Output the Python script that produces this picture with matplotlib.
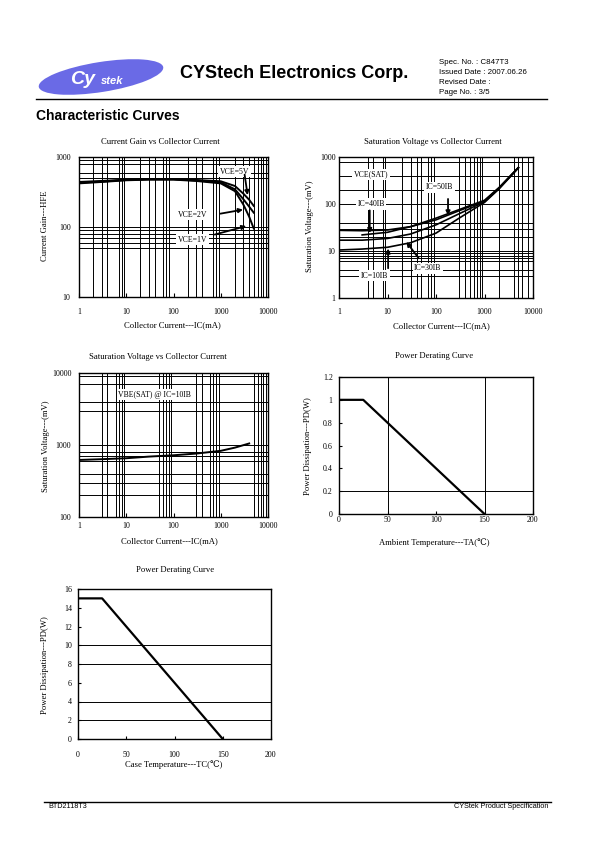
import matplotlib
matplotlib.use('Agg')
import matplotlib.pyplot as plt
from matplotlib.patches import Ellipse
from matplotlib.ticker import FixedLocator, NullFormatter, FormatStrFormatter

W, H = 595, 842
SERIF = ['Liberation Serif', 'DejaVu Serif', 'DejaVu Sans']
SANS = ['Liberation Sans', 'DejaVu Sans']

# ---- values ----
# Current gain vs collector current
hfe_ic = [1, 3, 10, 30, 100, 300, 1000, 2000, 3000, 4000, 5000]
hfe_5v = [440, 455, 475, 485, 485, 470, 450, 385, 300, 245, 200]
hfe_2v = [430, 445, 470, 480, 480, 462, 435, 345, 250, 195, 160]
hfe_1v = [420, 440, 465, 475, 475, 455, 420, 325, 210, 140, 95]

# VCE(SAT) vs collector current
vce_ic = [1, 3, 10, 30, 100, 300, 1000, 2000, 5000]
vce_50ib_ic = [3, 10, 30, 100, 300, 1000, 2000, 5000]
vce_50ib = [22, 25, 33, 50, 76, 120, 225, 600]
vce_40ib = [27.5, 27, 28, 33, 46, 72, 116, 220, 595]
vce_30ib = [17, 17, 18.5, 23, 36, 62, 112, 215, 590]
vce_10ib = [10.5, 11, 12, 15, 24, 50, 108, 210, 585]

# VBE(SAT) @ IC=10IB
vbe_ic = [1, 3, 10, 30, 100, 300, 1000, 2000, 4000]
vbe = [620, 635, 655, 690, 720, 760, 830, 920, 1050]

# power derating
ta = [0, 25, 150]
pd_ta = [1.0, 1.0, 0.0]
tc = [0, 25, 150]
pd_tc = [15, 15, 0]

log_x_ticks = [1, 10, 100, 1000, 10000]

fig = plt.figure(figsize=(W / 100, H / 100), dpi=100)


def axes_px(x0, y0, x1, y1):
    return fig.add_axes([x0 / W, 1 - y1 / H, (x1 - x0) / W, (y1 - y0) / H])


def style_spines(ax):
    for s in ax.spines.values():
        s.set_linewidth(1.0)
        s.set_color('black')


def log_panel(ax, ylim, yticks, xgrid, ygrid, xpad, ypad):
    ax.set_xscale('log')
    ax.set_yscale('log')
    ax.set_xlim(1, 10000)
    ax.set_ylim(*ylim)
    ax.set_xticks(log_x_ticks)
    ax.set_xticklabels([str(v) for v in log_x_ticks])
    ax.set_yticks(yticks)
    ax.set_yticklabels([str(v) for v in yticks])
    ax.xaxis.set_minor_locator(FixedLocator(xgrid))
    ax.yaxis.set_minor_locator(FixedLocator(ygrid))
    ax.xaxis.set_minor_formatter(NullFormatter())
    ax.yaxis.set_minor_formatter(NullFormatter())
    ax.grid(which='minor', color='black', lw=0.7)
    ax.grid(which='major', axis='y', color='black', lw=0.7)
    ax.tick_params(which='minor', length=0)
    ax.tick_params(axis='x', which='major', direction='in', length=3, width=0.8, pad=xpad)
    ax.tick_params(axis='y', which='major', length=0, pad=ypad)
    for lab in ax.get_xticklabels() + ax.get_yticklabels():
        lab.set_family(SERIF)
        lab.set_fontsize(5.7)
    style_spines(ax)


def box_label(ax, x, y, s):
    ax.text(x, y, s, family=SERIF, fontsize=5.6, ha='center', va='center',
            bbox=dict(facecolor='white', edgecolor='none', pad=1.2), zorder=5)


def arrow(ax, xy, xytext):
    ax.annotate('', xy=xy, xytext=xytext,
                arrowprops=dict(arrowstyle='-|>', color='black', lw=1.3,
                                mutation_scale=6, shrinkA=0, shrinkB=0), zorder=6)


def fig_text(x, y, s, **kw):
    fig.text(x / W, 1 - y / H, s, **kw)


# ---- chart 1: current gain ----
ax1 = axes_px(79, 157, 268, 297)
log_panel(ax1, (10, 1000), [10, 100, 1000],
          [2, 3, 4, 7, 8, 9, 20, 30, 40, 60, 70, 80, 200, 300, 400, 700, 800, 900,
           2000, 3000, 4000, 5000, 6000, 7000, 8000, 9000],
          [50, 60, 70, 80, 90, 500, 600, 800, 900], xpad=8, ypad=6)
for ys in (hfe_5v, hfe_2v, hfe_1v):
    ax1.plot(hfe_ic, ys, color='black', lw=1.4, zorder=4)
box_label(ax1, 1950, 614, 'VCE=5V')
box_label(ax1, 257, 150, 'VCE=2V')
box_label(ax1, 257, 66, 'VCE=1V')
arrow(ax1, (3700, 285), (3200, 560))
arrow(ax1, (2960, 177), (980, 155))
arrow(ax1, (3470, 103), (745, 78))

# ---- chart 2: VCE(SAT) ----
ax2 = axes_px(339, 157, 533, 298)
log_panel(ax2, (1, 1000), [1, 10, 100, 1000],
          [4, 5, 8, 9, 20, 30, 40, 50, 70, 80, 90, 300, 400, 500, 600, 700, 800, 900,
           2000, 4000, 5000, 6000, 8000],
          [3, 4, 6, 7, 8, 9, 20, 30, 40, 200, 400, 800], xpad=7.5, ypad=2.4)
ax2.plot(vce_50ib_ic, vce_50ib, color='black', lw=1.2, zorder=4)
for ys in (vce_40ib, vce_30ib, vce_10ib):
    ax2.plot(vce_ic, ys, color='black', lw=1.2, zorder=4)
box_label(ax2, 4.5, 430, 'VCE(SAT)')
box_label(ax2, 118, 226, 'IC=50IB')
box_label(ax2, 4.6, 100, 'IC=40IB')
box_label(ax2, 68, 4.3, 'IC=30IB')
box_label(ax2, 5.4, 3.0, 'IC=10IB')
arrow(ax2, (4.3, 24), (4.3, 73))
arrow(ax2, (177, 57), (177, 128))
arrow(ax2, (24.5, 15.6), (44, 7))
arrow(ax2, (10.3, 11.3), (10.3, 4.3))

# ---- chart 3: VBE(SAT) ----
ax3 = axes_px(79, 373, 268, 517)
log_panel(ax3, (100, 10000), [100, 1000, 10000],
          [3, 4, 6, 7, 8, 9, 50, 60, 70, 80, 90, 300, 400, 600, 700, 800, 900,
           5000, 6000, 7000, 8000, 9000],
          [200, 300, 400, 600, 700, 800, 3000, 4000, 7000, 9000], xpad=3.8, ypad=5.5)
ax3.plot(vbe_ic, vbe, color='black', lw=1.4, zorder=4)
box_label(ax3, 40, 5000, 'VBE(SAT) @ IC=10IB')

# ---- chart 4: derating vs TA ----
ax4 = axes_px(339, 377, 533, 514)
ax4.plot(ta, pd_ta, color='black', lw=1.6, zorder=4)
ax4.set_xlim(0, 200)
ax4.set_ylim(0, 1.2)
ax4.set_xticks([0, 50, 100, 150, 200])
ax4.set_yticks([0, 0.2, 0.4, 0.6, 0.8, 1.0, 1.2])
ax4.yaxis.set_major_formatter(FormatStrFormatter('%g'))
for gx in [50, 150]:
    ax4.axvline(gx, color='black', lw=0.7)
for gy in [0.2]:
    ax4.axhline(gy, color='black', lw=0.7)
ax4.tick_params(axis='x', direction='in', length=2.5, width=0.8, pad=1.5)
ax4.tick_params(axis='y', direction='in', length=2.5, width=0.8, pad=4.5)

# ---- chart 5: derating vs TC ----
ax5 = axes_px(78, 589, 271, 739)
ax5.plot(tc, pd_tc, color='black', lw=1.6, zorder=4)
ax5.set_xlim(0, 200)
ax5.set_ylim(0, 16)
ax5.set_xticks([0, 50, 100, 150, 200])
ax5.set_yticks([0, 2, 4, 6, 8, 10, 12, 14, 16])
for gy in [2, 4, 8, 10]:
    ax5.axhline(gy, color='black', lw=0.7)
ax5.tick_params(axis='x', direction='in', length=2.5, width=0.8, pad=8.5)
ax5.tick_params(axis='y', direction='in', length=2.5, width=0.8, pad=4.3)

for ax in (ax4, ax5):
    for lab in ax.get_xticklabels() + ax.get_yticklabels():
        lab.set_family(SERIF)
        lab.set_fontsize(5.7)
    style_spines(ax)

# ---- chart titles and axis labels ----
lab_kw = dict(family=SERIF, fontsize=6.2, ha='center', va='center')
fig_text(160, 142, 'Current Gain vs Collector Current', **lab_kw)
fig_text(433, 142, 'Saturation Voltage vs Collector Current', **lab_kw)
fig_text(158, 357, 'Saturation Voltage vs Collector Current', **lab_kw)
fig_text(434, 356, 'Power Derating Curve', **lab_kw)
fig_text(175, 570, 'Power Derating Curve', **lab_kw)

fig_text(172, 325, 'Collector Current---IC(mA)', **lab_kw)
fig_text(441, 326, 'Collector Current---IC(mA)', **lab_kw)
fig_text(169, 541, 'Collector Current---IC(mA)', **lab_kw)
fig_text(434, 543, 'Ambient Temperature---TA(\u2103)', **lab_kw)
fig_text(174, 765, 'Case Temperature---TC(\u2103)', **lab_kw)

fig_text(45, 226, 'Current Gain---HFE', rotation=90, **lab_kw)
fig_text(310, 226, 'Saturation Voltage---(mV)', rotation=90, **lab_kw)
fig_text(46, 446, 'Saturation Voltage---(mV)', rotation=90, **lab_kw)
fig_text(308, 446, 'Power Dissipation---PD(W)', rotation=90, **lab_kw)
fig_text(45, 665, 'Power Dissipation---PD(W)', rotation=90, **lab_kw)

# ---- page header / footer ----
page = fig.add_axes([0, 0, 1, 1], zorder=-1)
page.set_xlim(0, W)
page.set_ylim(H, 0)
page.axis('off')
page.add_patch(Ellipse((101, 77), 126, 30, angle=-9, facecolor='#6a6ae6', edgecolor='none'))
page.text(70, 79, 'Cy', color='white', family=SANS, fontsize=14, weight='bold',
          ha='left', va='center', style='italic')
page.text(101, 81, 'stek', color='white', family=SANS, fontsize=8, weight='bold',
          ha='left', va='center', style='italic')
page.text(180, 73, 'CYStech Electronics Corp.', family=SANS, fontsize=13,
          weight='bold', ha='left', va='center')
for i, s in enumerate(['Spec. No. : C847T3', 'Issued Date : 2007.06.26',
                       'Revised Date :', 'Page No. : 3/5']):
    page.text(439, 62 + i * 10, s, family=SANS, fontsize=5.7, ha='left', va='center')
page.plot([36, 547], [99, 99], color='black', lw=1.0)
page.text(36, 116, 'Characteristic Curves', family=SANS, fontsize=10,
          weight='bold', ha='left', va='center')

page.plot([44, 551], [802, 802], color='black', lw=1.0)
page.text(48, 807, 'BTD2118T3', family=SANS, fontsize=5.2, ha='left', va='center')
page.text(548, 807, 'CYStek Product Specification', family=SANS, fontsize=5.2,
          ha='right', va='center')

fig.savefig('out.png', dpi=100)
